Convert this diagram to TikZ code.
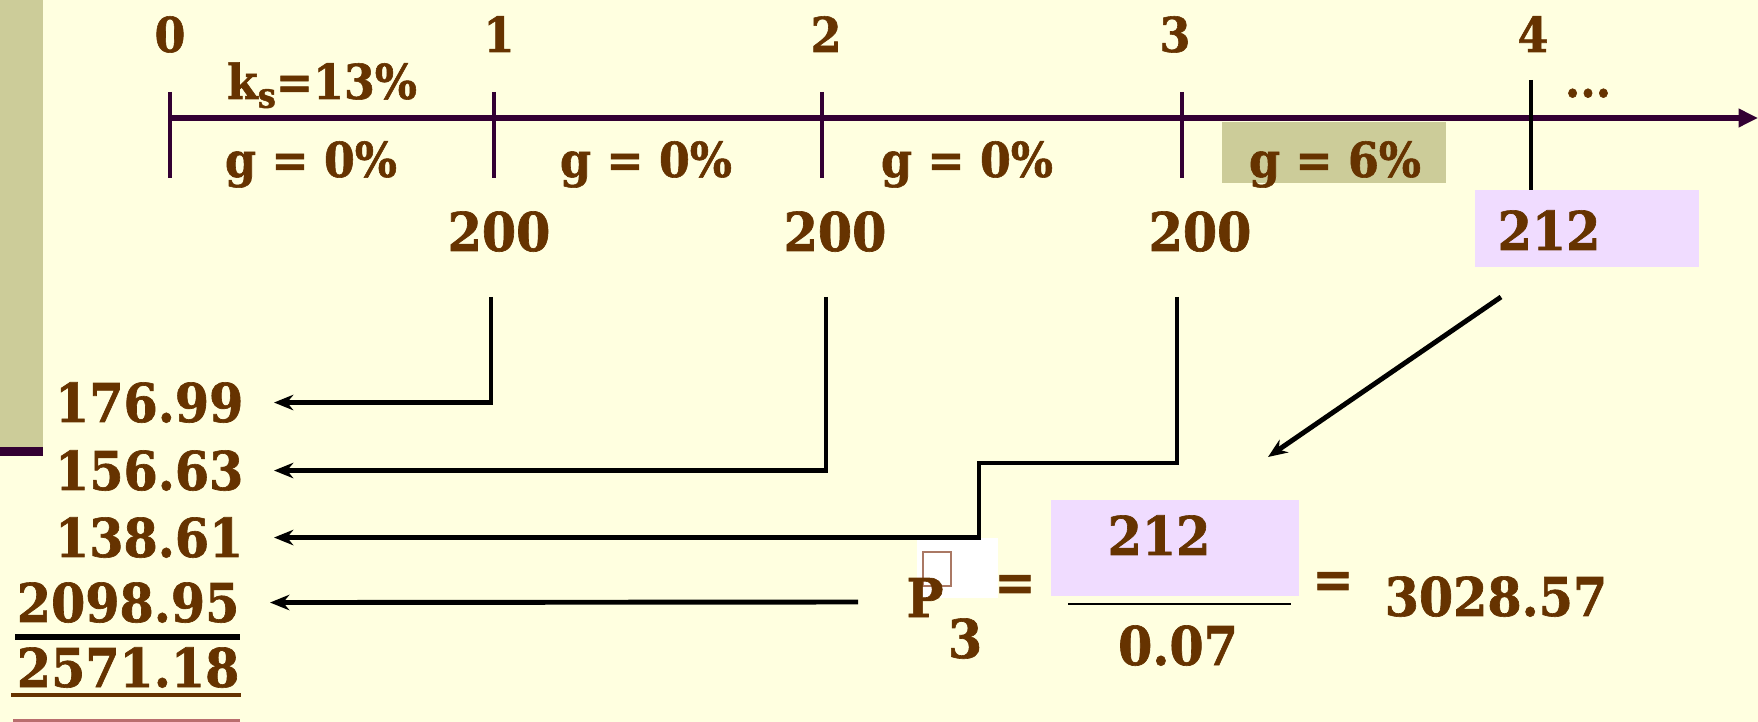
\documentclass[tikz,border=0pt]{standalone}
\usepackage{fontspec}
\setmainfont{DejaVu Serif}[FakeStretch=0.92, BoldFeatures={FakeBold=1.2}]
\usetikzlibrary{arrows.meta}

\definecolor{bgyellow}{RGB}{255,255,224}
\definecolor{txtbrown}{RGB}{102,51,0}
\definecolor{axispurple}{RGB}{51,0,51}
\definecolor{olivebar}{RGB}{204,204,153}
\definecolor{lavender}{RGB}{240,220,255}
\definecolor{rosebrown}{RGB}{185,110,110}
\definecolor{glyphbox}{RGB}{170,120,100}

\tikzset{
  big/.style={font=\fontsize{15.2}{18}\selectfont\bfseries, text=txtbrown, inner sep=0pt},
  small/.style={font=\fontsize{13.7}{16}\selectfont\bfseries, text=txtbrown, inner sep=0pt},
  tickline/.style={axispurple, line width=1.1pt},
  conn/.style={black, line width=1.4pt},
  connarrow/.style={conn, -{Stealth[length=5.5pt,width=4.4pt]}},
}

\begin{document}
\begin{tikzpicture}[x=0.01cm, y=-0.01cm]
  % 画布（单位：像素，y 向下）
  \useasboundingbox (0,0) rectangle (1758,722);
  \fill[bgyellow] (0,0) rectangle (1758,722);

  % 左侧色条
  \fill[olivebar] (0,0) rectangle (43,447);
  \fill[axispurple] (0,447) rectangle (43,456);

  % 1. 底色块
  \fill[olivebar] (1222,122) rectangle (1446,183);
  \fill[lavender] (1475,190) rectangle (1699,267);
  \fill[lavender] (1051,500) rectangle (1299,596);
  \fill[white] (917,538) rectangle (998,598);
  \draw[glyphbox, line width=0.4pt] (923,552) rectangle (951,586);

  % 2. 时间轴与刻度
  \draw[axispurple, line width=1.5pt, -{Triangle[length=5.5pt,width=5pt]}] (170,118) -- (1758,118);
  \foreach \x in {170,494,822,1182}
    \draw[tickline] (\x,92) -- (\x,178);
  \draw[conn, line width=1.2pt] (1531,80) -- (1531,190);

  % 刻度数字
  \foreach \x/\n in {170/0,499/1,826/2,1175/3,1533/4}
    \node[small, anchor=base] (t\n) at (\x,52) {\n};
  \node[small, anchor=base] (dots) at (1588,97) {...};

  % 3. 区间标签
  \node[small, anchor=base] (ks) at (322,99) {k\raisebox{-0.35ex}{\fontsize{10}{10}\selectfont s}=13\%};
  \node[small, anchor=base] (g1) at (311,177) {g = 0\%};
  \node[small, anchor=base] (g2) at (646,177) {g = 0\%};
  \node[small, anchor=base] (g3) at (967,177) {g = 0\%};
  \node[small, anchor=base] (g4) at (1335,177) {g = 6\%};

  % 4. 股利
  \node[big, anchor=base] (div1) at (499,251) {200};
  \node[big, anchor=base] (div2) at (835,251) {200};
  \node[big, anchor=base] (div3) at (1200,251) {200};
  \node[big, anchor=base] (div4) at (1549,250) {212};

  % 5. 现值（左列）
  \node[big, anchor=base east] (v1) at (244,422) {176.99};
  \node[big, anchor=base east] (v2) at (244,490) {156.63};
  \node[big, anchor=base east] (v3) at (244,557) {138.61};
  \node[big, anchor=base east] (v4) at (240,622) {2098.95};
  \node[big, anchor=base east] (tot) at (240,687) {2571.18};
  \draw[black, line width=1.5pt] (15,637) -- (240,637);
  \draw[txtbrown, line width=1.2pt] (11,695) -- (241,695);
  \draw[rosebrown, line width=1pt] (13,721) -- (240,721);

  % 6. 折现连线
  \coordinate (d1) at (491,297);
  \coordinate (d2) at (826,297);
  \coordinate (d3) at (1177,297);
  \coordinate (e3) at (979,463);
  \coordinate (s4) at (858,602);
  \draw[connarrow] (d1) |- ([xshift=0.3cm]v1.east);
  \draw[connarrow] (d2) |- ([xshift=0.3cm]v2.east);
  \draw[connarrow] (d3) |- (e3) |- ([xshift=0.3cm]v3.east);
  \draw[connarrow] (s4) -- ([xshift=0.3cm]v4.east);

  % 7. P3 = 212 / 0.07 = 3028.57
  \node[big, anchor=base] (pthree) at (925,617) {P};
  \node[big, anchor=base] (sub3) at (965,658) {3};
  \node[big] (eqa) at (1015,588) {=};
  \node[big, anchor=base] (num) at (1159,555) {212};
  \draw[conn, line width=0.8pt] (1068,604) -- (1291,604);
  \node[big, anchor=base] (den) at (1178,665) {0.07};
  \node[big] (eqb) at (1333,585) {=};
  \node[big, anchor=base west] (res) at (1384,616) {3028.57};

  \coordinate (d212) at (1501,297);
  \coordinate (e212) at (1268,457);
  \draw[connarrow] (d212) -- (e212);
\end{tikzpicture}
\end{document}
